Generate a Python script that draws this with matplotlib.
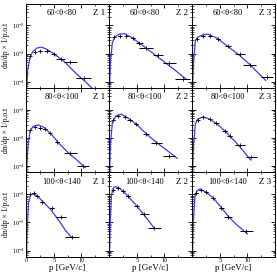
import numpy as np
import matplotlib
matplotlib.use("Agg")
import matplotlib.pyplot as plt
from matplotlib.ticker import LogLocator, MultipleLocator, NullFormatter, FixedLocator

plt.rcParams['font.family'] = ['Liberation Serif', 'DejaVu Serif']

angle_bins = ["60<\u03b8<80", "80<\u03b8<100", "100<\u03b8<140"]
targets = ["Z 1", "Z 2", "Z 3"]

# data points: p, log10(dn/dp), half bin width  (row = angle, col = target)
data_p = [
    [[0.7, 1.6, 2.5, 3.7, 5.0, 6.3, 8.0, 10.4],
     [0.95, 1.9, 3.1, 4.3, 5.5, 6.7, 8.8, 10.9, 13.3],
     [0.9, 2.0, 3.2, 4.7, 6.5, 8.6, 10.4, 13.5]],
    [[0.7, 1.6, 2.5, 3.4, 4.3, 5.6, 8.0, 10.3],
     [0.8, 1.6, 2.8, 3.7, 4.9, 6.7, 8.5, 10.9],
     [1.1, 2.0, 3.2, 4.4, 5.9, 6.8, 8.6, 10.7]],
    [[0.66, 1.4, 2.0, 2.9, 4.7, 6.3, 8.3],
     [0.66, 1.6, 2.5, 3.4, 5.0, 6.4, 8.2],
     [0.8, 1.6, 2.6, 3.8, 5.3, 6.5, 9.8]],
]
data_logy = [
    [[-3.10, -2.95, -2.89, -2.90, -3.02, -3.20, -3.30, -3.88],
     [-2.41, -2.37, -2.37, -2.46, -2.64, -2.79, -3.05, -3.33, -3.90],
     [-2.49, -2.37, -2.37, -2.49, -2.73, -3.03, -3.41, -3.83]],
    [[-2.71, -2.62, -2.63, -2.69, -2.81, -3.13, -3.52, -4.00],
     [-2.37, -2.21, -2.25, -2.36, -2.51, -2.87, -3.17, -3.64],
     [-2.37, -2.25, -2.31, -2.45, -2.75, -2.93, -3.23, -3.68]],
    [[-1.99, -1.96, -2.06, -2.26, -2.49, -2.80, -3.52],
     [-1.84, -1.76, -1.87, -2.05, -2.40, -2.71, -3.21],
     [-1.96, -1.84, -1.93, -2.12, -2.50, -2.80, -3.31]],
]
data_dp = [
    [[0.2, 0.2, 0.3, 0.4, 0.5, 0.8, 1.2, 1.4],
     [0.2, 0.3, 0.3, 0.4, 0.6, 1.2, 0.9, 1.2, 1.3],
     [0.2, 0.3, 0.3, 0.4, 0.5, 0.9, 1.2, 1.1]],
    [[0.2, 0.2, 0.3, 0.3, 0.3, 0.4, 1.2, 1.1],
     [0.2, 0.3, 0.3, 0.4, 0.4, 0.5, 1.0, 1.1],
     [0.2, 0.3, 0.3, 0.4, 0.4, 0.5, 0.9, 1.0]],
    [[0.2, 0.2, 0.3, 0.3, 0.4, 0.9, 1.2],
     [0.2, 0.3, 0.3, 0.4, 0.5, 0.8, 1.2],
     [0.2, 0.3, 0.3, 0.4, 0.5, 0.8, 1.2]],
]

# model curves: p, log10(dn/dp)
curve_p = [
    [[0.05, 0.3, 0.7, 1.2, 2.0, 2.7, 3.5, 5.0, 7.0, 9.0, 11.0, 12.3],
     [0.05, 0.25, 0.6, 1.0, 1.8, 2.8, 4.0, 6.0, 8.0, 10.0, 12.0, 14.0],
     [0.05, 0.25, 0.6, 1.0, 2.0, 2.9, 4.5, 6.5, 8.5, 10.5, 12.0, 13.3]],
    [[0.05, 0.3, 0.7, 1.2, 2.2, 3.2, 4.5, 6.0, 7.5, 9.0, 10.7],
     [0.05, 0.25, 0.6, 1.2, 2.2, 3.5, 5.0, 7.0, 9.0, 11.0, 12.3],
     [0.05, 0.25, 0.6, 1.0, 2.0, 3.2, 4.5, 6.0, 8.6, 10.6]],
    [[0.05, 0.2, 0.45, 0.8, 1.2, 2.0, 3.0, 4.5, 6.0, 7.2, 8.3],
     [0.05, 0.2, 0.45, 0.8, 1.2, 2.0, 3.0, 4.5, 6.0, 7.0, 8.2],
     [0.05, 0.2, 0.5, 0.9, 1.4, 2.5, 3.8, 5.3, 6.5, 8.0, 10.0]],
]
curve_logy = [
    [[-4.5, -3.6, -3.15, -2.93, -2.80, -2.77, -2.82, -3.00, -3.30, -3.70, -4.05, -4.30],
     [-4.5, -3.3, -2.60, -2.42, -2.31, -2.29, -2.42, -2.70, -3.00, -3.30, -3.60, -3.92],
     [-4.5, -3.3, -2.55, -2.42, -2.33, -2.31, -2.45, -2.75, -3.05, -3.40, -3.70, -3.95]],
    [[-4.5, -3.4, -2.78, -2.60, -2.53, -2.62, -2.85, -3.20, -3.50, -3.75, -4.05],
     [-4.5, -3.2, -2.45, -2.22, -2.15, -2.30, -2.52, -2.90, -3.22, -3.52, -3.72],
     [-4.5, -3.3, -2.50, -2.33, -2.25, -2.33, -2.50, -2.76, -3.30, -3.78]],
    [[-4.5, -3.3, -2.30, -2.03, -1.98, -2.05, -2.25, -2.55, -2.95, -3.30, -3.54],
     [-4.5, -3.0, -2.00, -1.77, -1.72, -1.80, -1.98, -2.30, -2.65, -2.90, -3.21],
     [-4.5, -3.1, -2.10, -1.87, -1.81, -1.92, -2.12, -2.47, -2.77, -3.07, -3.40]],
]

fig, axes = plt.subplots(3, 3, figsize=(2.77, 2.73), dpi=100)
fig.subplots_adjust(left=0.094, right=0.993, top=0.987, bottom=0.059, wspace=0, hspace=0)

for r in range(3):
    for c in range(3):
        ax = axes[r, c]
        ax.plot(curve_p[r][c], 10.0 ** np.array(curve_logy[r][c]), color="#3a3aff", lw=0.9)
        ax.errorbar(data_p[r][c], 10.0 ** np.array(data_logy[r][c]), xerr=data_dp[r][c],
                    fmt="+", ms=2.5, mew=0.6, color="black", elinewidth=0.7, capsize=0)
        ax.set_yscale("log")
        ax.set_xlim(0, 15)
        ax.set_ylim(6e-5, 6e-2)
        if c == 0:
            ax.set_xticks([0, 5, 10])
        else:
            ax.set_xticks([0, 5, 10])
            ax.set_xticklabels(["", "5", "10"])
        ax.xaxis.set_minor_locator(MultipleLocator(2.5))
        ax.yaxis.set_major_locator(LogLocator(base=10, numticks=10))
        ax.yaxis.set_minor_locator(LogLocator(base=10, subs=np.arange(2, 10), numticks=10))
        ax.yaxis.set_minor_formatter(NullFormatter())
        ax.tick_params(which="both", direction="in", top=True, right=True, labelsize=4.5, pad=1)
        ax.tick_params(which="major", length=3, width=0.6)
        ax.tick_params(which="minor", length=1.5, width=0.5)
        for s in ax.spines.values():
            s.set_linewidth(0.7)
        ax.text(0.43, 0.89, angle_bins[r], transform=ax.transAxes, fontsize=6, ha="center", va="center")
        ax.text(0.88, 0.89, targets[c], transform=ax.transAxes, fontsize=6.5, ha="center", va="center")
        if c == 0:
            ax.set_ylabel("dn/dp \u00d7 1/p.o.t", fontsize=5.5, labelpad=1)
        else:
            ax.tick_params(labelleft=False)
        if r == 2:
            ax.set_xlabel("p [GeV/c]", fontsize=6.5, labelpad=0.5)
        else:
            ax.tick_params(labelbottom=False)

fig.savefig("out.png", dpi=100)
